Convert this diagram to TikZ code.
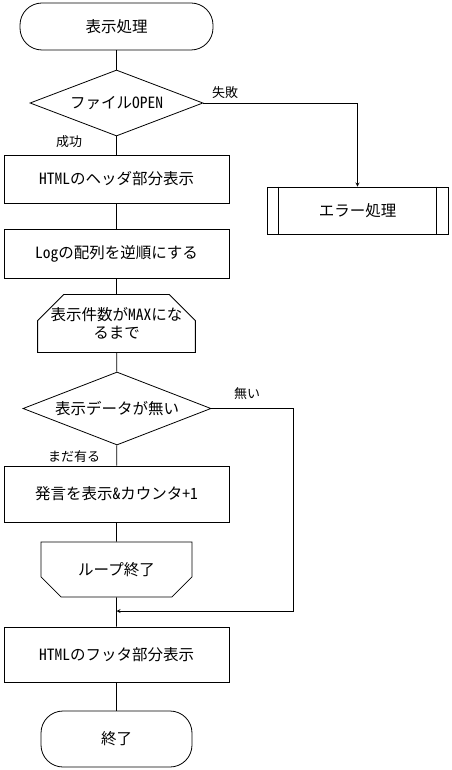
\documentclass[tikz,border=0pt]{standalone}
\usepackage{fontspec}
\setmainfont[RawFeature=+hwid]{Noto Sans CJK JP}
\usepackage{tikz}
\usetikzlibrary{calc, shapes.geometric, shapes.misc, arrows}
\tikzstyle{txt}=[font=\fontsize{15.5}{18}\selectfont]
\tikzstyle{lbl}=[inner sep=0pt, font=\fontsize{13}{15}\selectfont]
\tikzstyle{term}=[txt, draw, rectangle, rounded corners=22pt, inner sep=0pt]
\tikzstyle{proc}=[txt, draw, rectangle, minimum width=225pt, inner sep=0pt]
\tikzstyle{dec}=[txt, draw, diamond, aspect=2.6, inner sep=0pt]
\tikzstyle{lp}=[txt, draw, chamfered rectangle, chamfered rectangle sep=13pt, minimum width=151pt, inner sep=0pt, align=center]
\tikzset{>=stealth}

\begin{document}
\begin{tikzpicture}[x=1pt, y=-1pt, line width=0.8pt]
\useasboundingbox (0,0) rectangle (451,770);
\node[term, minimum width=193pt, minimum height=47pt] (T0) at (116.5,26.5) {表示処理};
\node[dec, minimum width=173pt, minimum height=66pt] (D1) at (116.5,103) {ファイルOPEN};
\node[proc, minimum height=48pt] (P1) at (116.5,179) {HTMLのヘッダ部分表示};
\node[proc, minimum width=181pt, minimum height=47pt] (E1) at (357.5,210.5) {エラー処理};
\draw ([xshift=12pt]E1.north west) -- ([xshift=12pt]E1.south west);
\draw ([xshift=-12pt]E1.north east) -- ([xshift=-12pt]E1.south east);
\node[proc, minimum height=49pt] (P2) at (116.5,253.5) {Logの配列を逆順にする};
\node[lp, chamfered rectangle corners={north west, north east}, minimum height=57pt] (L1) at (116.5,323.5) {表示件数がMAXにな\\るまで};
\node[dec, minimum width=188pt, minimum height=73pt] (D2) at (117,408.5) {表示データが無い};
\node[proc, minimum height=56pt] (P3) at (116.5,494) {発言を表示\&カウンタ+１};
\node[lp, chamfered rectangle corners={south west, south east}, minimum height=55pt] (L2) at (116.5,569.5) {ループ終了};
\node[proc, minimum height=55pt] (P4) at (116.5,654.5) {HTMLのフッタ部分表示};
\node[term, minimum width=151pt, minimum height=56pt] (T1) at (116.5,739) {終了};
\coordinate (M) at (116.5,611);
\coordinate (R) at (293,611);
\node[lbl] (F) at (225,93) {失敗};
\node[lbl] (S) at (69,142) {成功};
\node[lbl] (N) at (247,394) {無い};
\node[lbl] (Y) at (74,457) {まだ有る};
\draw (T0) -- (D1);
\draw (D1) -- (P1);
\draw (P1) -- (P2);
\draw (P2) -- (L1);
\draw (L1) -- (D2);
\draw (D2) -- (P3);
\draw (P3) -- (L2);
\draw (L2) -- (P4);
\draw (P4) -- (T1);
\draw[->] (D1.east) -| (E1.north);
\draw[->] (D2.east) -| (R) -- (M);
\end{tikzpicture}
\end{document}
